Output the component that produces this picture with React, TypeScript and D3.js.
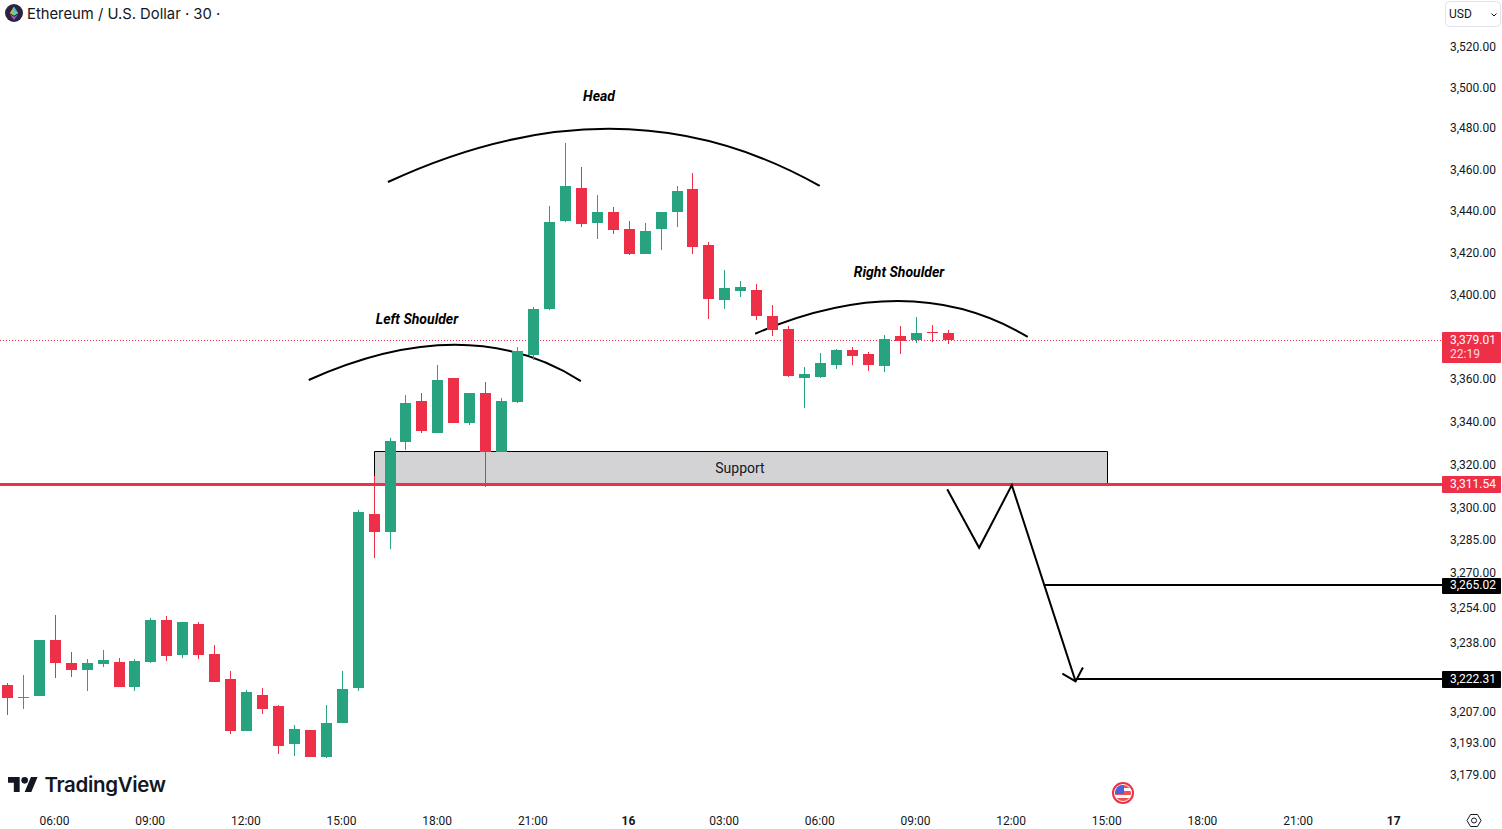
import React from "react";
import * as d3 from "d3";

// OHLC (USD)
const opens = [3219.7,3214.0,3214.7,3240.1,3229.7,3226.5,3229.2,3230.1,3218.8,3230.1,3249.1,3233.3,3247.3,3233.7,3222.4,3199.0,3215.2,3210.2,3193.2,3199.5,3187.4,3202.6,3218.4,3297.7,3289.4,3331.1,3350.1,3335.3,3361.0,3339.9,3353.9,3326.4,3349.7,3371.8,3393.6,3435.7,3451.5,3434.7,3439.9,3431.8,3419.8,3431.8,3439.9,3451.0,3424.1,3397.8,3402.1,3402.6,3390.2,3384.1,3361.0,3361.5,3367.1,3374.2,3372.3,3366.6,3380.8,3378.9,3382.7,3382.2];
const highs = [3220.6,3224.2,3240.1,3251.4,3234.6,3231.5,3235.6,3231.9,3231.5,3250.0,3251.0,3248.2,3248.2,3237.8,3226.1,3217.5,3218.4,3210.7,3201.7,3199.5,3210.7,3226.1,3299.5,3315.3,3332.9,3353.0,3353.9,3367.1,3361.0,3353.9,3359.1,3351.5,3375.6,3394.5,3442.8,3473.4,3461.7,3448.1,3442.3,3435.6,3434.7,3439.9,3452.5,3458.8,3425.6,3412.2,3406.9,3405.5,3395.4,3385.5,3366.2,3372.8,3374.7,3375.6,3373.3,3381.3,3385.5,3389.8,3386.0,3383.6];
const lows = [3206.2,3208.9,3214.7,3222.9,3223.3,3217.0,3227.9,3218.8,3217.0,3229.7,3230.6,3231.9,3231.5,3221.1,3197.7,3199.0,3206.6,3188.8,3187.9,3187.4,3187.0,3202.6,3217.0,3277.5,3281.6,3327.4,3335.3,3335.3,3339.9,3339.0,3310.1,3326.4,3349.2,3369.5,3393.1,3435.2,3432.8,3427.0,3429.4,3419.4,3419.8,3421.8,3432.8,3419.8,3388.8,3393.6,3399.2,3388.4,3380.8,3361.5,3346.9,3361.0,3365.2,3367.1,3364.3,3363.8,3372.3,3377.5,3378.0,3377.0];
const closes = [3213.8,3214.3,3240.1,3229.7,3226.5,3229.7,3231.0,3218.8,3230.6,3249.1,3232.8,3248.2,3233.3,3221.1,3199.0,3216.6,3208.9,3192.3,3199.9,3187.4,3202.6,3217.9,3298.6,3289.4,3331.5,3349.2,3336.2,3360.0,3339.9,3353.9,3326.4,3350.1,3373.7,3393.6,3435.2,3452.5,3434.2,3439.9,3431.3,3419.8,3430.9,3439.9,3450.1,3423.2,3398.3,3403.6,3404.0,3390.2,3383.6,3361.9,3362.9,3368.1,3374.2,3371.4,3367.1,3379.4,3378.4,3382.2,3382.2,3379.01];

const priceTicks = [3520,3500,3480,3460,3440,3420,3400,3360,3340,3320,3300,3285,3270,3254,3238,3207,3193,3179];
const timeTicks = [[3,"06:00"],[9,"09:00"],[15,"12:00"],[21,"15:00"],[27,"18:00"],[33,"21:00"],[39,"16"],[45,"03:00"],[51,"06:00"],[57,"09:00"],[63,"12:00"],[69,"15:00"],[75,"18:00"],[81,"21:00"],[87,"17"]] as [number,string][];

const lastPrice = 3379.01;
const supportPrice = 3311.54;
const supportTop = 3326.9;
const target1 = 3265.02;
const target2 = 3222.31;

// drawings: [bar index, price]
const leftArc = [[18.9,3360.0],[28.13,3376.6],[35.97,3359.5]];
const headArc = [[23.87,3454.4],[37.96,3480.2],[50.95,3452.5]];
const rightArc = [[46.9,3381.8],[56.05,3397.3],[64.0,3380.3]];
const zigzag = [[58.95,3309.0],[60.95,3282.0],[63.0,3310.9],[67.0,3221.2]];
const arrowHead = [[66.17,3224.7],[67.0,3221.2],[67.46,3227.5]];
const target1Start = 65.0;
const target2Start = 67.0;
const supportBars = [22.99, 69.0];
const labels = [["Head",599,96],["Left Shoulder",417,319],["Right Shoulder",899,272]] as [string,number,number][];

const GREEN = "#27a380";
const RED = "#ed3048";
const INK = "#131722";
const AXIS_LEFT = 1442;
const font = "Roboto, sans-serif";

const x = d3.scaleLinear().domain([0, 87]).range([7.4, 1394.45]);
const y = d3.scaleLog().domain([3179, 3520]).range([775.6, 47.6]);

function arcPath(pts: number[][]) {
  const [a, m, b] = pts.map(([i, p]) => [x(i), y(p)]);
  const cx = 2 * m[0] - (a[0] + b[0]) / 2;
  const cy = 2 * m[1] - (a[1] + b[1]) / 2;
  const p = d3.path();
  p.moveTo(a[0], a[1]);
  p.quadraticCurveTo(cx, cy, b[0], b[1]);
  return p.toString();
}
const polyline = d3.line<number[]>().x(d => x(d[0])).y(d => y(d[1]));

function PriceBox({ price, fill, top, h, extra, base }: any) {
  return (
    <g>
      <rect x={AXIS_LEFT} y={top} width={59} height={h} rx={1} fill={fill} />
      <text x={1450} y={base} fontSize={12} fontFamily={font} fill="#fff">{price}</text>
      {extra && <text x={1450} y={top + 26} fontSize={12} fontFamily={font} fill="#fff" fillOpacity={0.85}>{extra}</text>}
    </g>
  );
}

export default function App() {
  const zoneX0 = Math.round(x(supportBars[0])) + 0.5;
  const zoneX1 = Math.round(x(supportBars[1])) + 0.5;
  const zoneY0 = Math.round(y(supportTop)) + 0.5;
  const zoneY1 = Math.round(y(supportPrice)) + 0.5;
  return (
    <svg width={1502} height={829} style={{ position: "absolute", left: 0, top: 0, display: "block", background: "#fff" }}>
      {/* support zone */}
      <path d={`M${zoneX0},${zoneY1}V${zoneY0}H${zoneX1}V${zoneY1}Z`} fill="#d3d3d5" stroke="#000" strokeWidth={1} />
      <text x={740} y={473} textAnchor="middle" fontSize={14} fontFamily={font} fill={INK}>Support</text>

      {/* level lines */}
      <line x1={0} x2={AXIS_LEFT} y1={340.5} y2={340.5} stroke={RED} strokeWidth={1} strokeDasharray="1 2" />
      <line x1={0} x2={AXIS_LEFT} y1={zoneY1} y2={zoneY1} stroke={RED} strokeWidth={3} />
      <line x1={x(target1Start)} x2={AXIS_LEFT} y1={Math.round(y(target1))} y2={Math.round(y(target1))} stroke="#000" strokeWidth={2} />
      <line x1={x(target2Start)} x2={AXIS_LEFT} y1={Math.round(y(target2))} y2={Math.round(y(target2))} stroke="#000" strokeWidth={2} />

      {/* drawings */}
      {[leftArc, headArc, rightArc].map((a, i) => (
        <path key={i} d={arcPath(a)} fill="none" stroke="#000" strokeWidth={2} />
      ))}
      <path d={polyline(zigzag) || ""} fill="none" stroke="#000" strokeWidth={2} />
      <path d={polyline(arrowHead) || ""} fill="none" stroke="#000" strokeWidth={2} />
      {labels.map(([t, lx, ly]) => (
        <text key={t} x={lx} y={ly + 5} textAnchor="middle" fontSize={14} fontWeight={700} fontStyle="italic" fontFamily={font} fill="#000">{t}</text>
      ))}

      {/* candles */}
      <g shapeRendering="crispEdges">
        {opens.map((o, i) => {
          const c = closes[i];
          const col = c >= o ? GREEN : RED;
          const px = Math.floor(x(i));
          const top = Math.round(y(Math.max(o, c)));
          const bot = Math.round(y(Math.min(o, c)));
          const hi = Math.round(y(highs[i]));
          const lo = Math.round(y(lows[i]));
          return (
            <g key={i} fill={col}>
              <rect x={px} y={hi} width={1} height={Math.max(lo - hi, 1)} />
              <rect x={px - 5} y={top} width={11} height={Math.max(bot - top, 1)} />
            </g>
          );
        })}
      </g>

      {/* price axis */}
      {priceTicks.map(p => (
        <text key={p} x={1450} y={Math.round(y(p) + (y(p) < 300 ? 3.2 : 3))} fontSize={12} fontFamily={font} fill={INK}>{d3.format(",.2f")(p)}</text>
      ))}
      <PriceBox price={d3.format(",.2f")(lastPrice)} fill={RED} top={332} h={31} extra="22:19" base={344} />
      <PriceBox price={d3.format(",.2f")(supportPrice)} fill={RED} top={476} h={17} base={488} />
      <PriceBox price={d3.format(",.2f")(target1)} fill="#000" top={578} h={16} base={589} />
      <PriceBox price={d3.format(",.2f")(target2)} fill="#000" top={671} h={17} base={683} />

      {/* time axis */}
      {timeTicks.map(([i, t]) => (
        <text key={i} x={x(i) - 0.7} y={825} textAnchor="middle" fontSize={12} fontFamily={font} fontWeight={t.length < 3 ? 700 : 400} fill={INK}>{t}</text>
      ))}

      {/* header */}
      <circle cx={14} cy={13} r={9} fill="#2b2340" />
      <polygon points="14,6.5 18.2,13 14,15.5" fill="#3fb6e8" />
      <polygon points="14,6.5 9.8,13 14,15.5" fill="#f0a030" />
      <polygon points="14,16.8 18.2,14.2 14,20" fill="#7a5be0" />
      <polygon points="14,16.8 9.8,14.2 14,20" fill="#e0508c" />
      <polygon points="14,11 18.2,13 14,15.5 9.8,13" fill="#6fd08c" />
      <text x={27} y={19} fontSize={14.8} fontFamily="Inter, sans-serif" fill={INK}>Ethereum / U.S. Dollar · 30 ·</text>

      {/* currency button */}
      <rect x={1445.5} y={1.5} width={55} height={25} rx={4} fill="#fff" stroke="#e0e3eb" />
      <text x={1449} y={18} fontSize={12} fontFamily={font} fill={INK}>USD</text>
      <path d="M1491.5,13.5l2.5,2.5l2.5,-2.5" fill="none" stroke={INK} strokeWidth={1} />

      {/* TradingView mark */}
      <g transform="translate(8,777) scale(0.833)" fill={INK}>
        <path d="M14 18H7V7H0V0h14v18zM28 18h-8L27.5 0h8L28 18z" />
        <circle cx={20} cy={4} r={4} />
      </g>
      <text x={44.5} y={792} fontSize={20.5} fontWeight={600} fontFamily="Inter, sans-serif" letterSpacing={-0.35} fill={INK}>TradingView</text>

      {/* flag event marker */}
      <circle cx={1123} cy={793} r={10} fill="#fff" stroke={RED} strokeWidth={2} />
      <clipPath id="fc"><circle cx={1123} cy={793} r={8} /></clipPath>
      <g clipPath="url(#fc)" shapeRendering="crispEdges">
        <rect x={1115} y={785} width={16} height={3} fill="#ef5350" />
        <rect x={1115} y={791} width={16} height={4} fill="#ef5350" />
        <rect x={1115} y={798} width={16} height={3} fill="#ef5350" />
        <rect x={1115} y={785} width={9} height={9} fill="#4a63e0" />
      </g>

      {/* settings */}
      <path d="M1467,820.5l3.5,-6h7l3.5,6l-3.5,6h-7z" fill="none" stroke={INK} strokeWidth={1} />
      <circle cx={1474} cy={820.5} r={2.5} fill="none" stroke={INK} strokeWidth={1} />
    </svg>
  );
}
